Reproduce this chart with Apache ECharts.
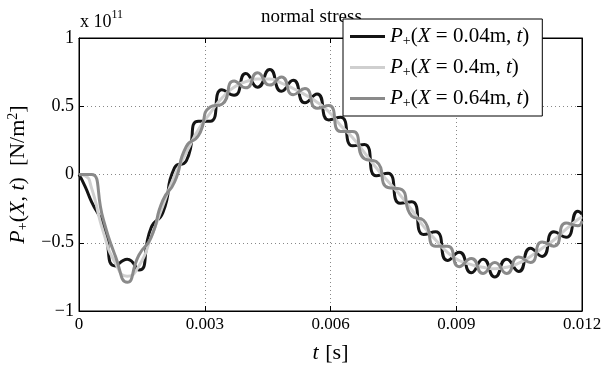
<!DOCTYPE html>
<html>
<head>
<meta charset="utf-8">
<script src="https://cdn.jsdelivr.net/npm/echarts@6/dist/echarts.min.js"></script>
<style>
  html, body { margin: 0; padding: 0; background: #fff; }
  #chart { width: 602px; height: 366px; }
</style>
</head>
<body>
<div id="chart"></div>
<script>
// time in ms (axis labels are shown in s), values in units of 1e11 N/m^2
const tMs = [0, 0.15, 0.30, 0.58, 0.87, 1.15, 1.43, 1.72, 2.00, 2.28, 2.56, 2.85, 3.13, 3.41, 3.70, 3.98,
  4.26, 4.55, 4.83, 5.11, 5.39, 5.68, 5.96, 6.24, 6.53, 6.81, 7.09, 7.37, 7.66, 7.94, 8.22, 8.51,
  8.79, 9.07, 9.36, 9.64, 9.92, 10.20, 10.49, 10.77, 11.05, 11.33, 11.62, 11.90, 12.0];

// P+(X=0.04m, t)
const p004 = [0, -0.09, -0.20, -0.37, -0.67, -0.62, -0.70, -0.39, -0.28, 0.05, 0.10, 0.39, 0.39, 0.62, 0.58, 0.74,
  0.64, 0.77, 0.61, 0.69, 0.525, 0.59, 0.40, 0.42, 0.21, 0.22, -0.01, 0.01, -0.21, -0.20, -0.44, -0.42,
  -0.63, -0.57, -0.72, -0.62, -0.75, -0.62, -0.71, -0.54, -0.60, -0.42, -0.46, -0.27, -0.29];

// P+(X=0.4m, t)
const p04 = [0, -0.01, -0.10, -0.42, -0.65, -0.745, -0.67, -0.46, -0.23, -0.01, 0.16, 0.33, 0.45, 0.56, 0.64, 0.68,
  0.70, 0.70, 0.67, 0.63, 0.585, 0.53, 0.46, 0.36, 0.27, 0.16, 0.05, -0.05, -0.15, -0.26, -0.38, -0.48,
  -0.57, -0.63, -0.66, -0.68, -0.69, -0.68, -0.65, -0.60, -0.54, -0.48, -0.40, -0.33, -0.31];

// P+(X=0.64m, t)
const p064 = [0, 0, 0, -0.33, -0.60, -0.79, -0.59, -0.46, -0.19, -0.055, 0.205, 0.285, 0.495, 0.515, 0.685, 0.635,
  0.745, 0.655, 0.715, 0.585, 0.63, 0.485, 0.505, 0.315, 0.315, 0.115, 0.095, -0.095, -0.105, -0.305, -0.335, -0.525,
  -0.525, -0.675, -0.615, -0.725, -0.645, -0.725, -0.605, -0.645, -0.495, -0.525, -0.355, -0.375, -0.34];

const seriesNames = ['X = 0.04m', 'X = 0.4m', 'X = 0.64m'];
const seriesColors = ['#141414', '#cfcfcf', '#8a8a8a'];
const seriesValues = [p004, p04, p064];

const serif = 'Liberation Serif';

function pairs(vals) {
  return tMs.map((t, i) => [t, vals[i]]);
}

const chart = echarts.init(document.getElementById('chart'));

const option = {
  animation: false,
  backgroundColor: '#fff',
  title: {
    text: 'normal stress',
    left: 256,
    top: 3,
    textStyle: { fontFamily: serif, fontSize: 19, fontWeight: 'normal', color: '#000' }
  },
  legend: {
    orient: 'vertical',
    left: 343,
    top: 19,
    z: 10,
    backgroundColor: '#fff',
    borderColor: '#000',
    borderWidth: 1,
    borderRadius: 0,
    padding: [7, 13, 6, 7],
    itemGap: 9,
    itemWidth: 35,
    itemHeight: 3,
    icon: 'rect',
    data: seriesNames,
    formatter: function (name) {
      const parts = name.split('= ');
      return '{i|P}{sub|+}{n|(}{i|X}{n| = ' + parts[1] + ', }{i|t}{n|)}';
    },
    textStyle: {
      fontFamily: serif,
      fontSize: 21,
      color: '#000',
      rich: {
        i: { fontFamily: serif, fontStyle: 'italic', fontSize: 21, color: '#000' },
        n: { fontFamily: serif, fontSize: 21, color: '#000' },
        sub: { fontFamily: serif, fontSize: 14, color: '#000', verticalAlign: 'bottom', padding: [9, 0, 0, 0] }
      }
    }
  },
  graphic: [{
    type: 'text',
    left: 80,
    top: 9,
    style: {
      text: '{a|x 10}{s|11}',
      rich: {
        a: { fontFamily: serif, fontSize: 18, fill: '#000', verticalAlign: 'bottom' },
        s: { fontFamily: serif, fontSize: 12, fill: '#000', verticalAlign: 'top', padding: [0, 0, 10, 0] }
      }
    }
  }],
  grid: {
    left: 79,
    right: 20,
    top: 38,
    bottom: 55,
    show: true,
    borderColor: '#000',
    borderWidth: 1,
    containLabel: false,
    outerBoundsMode: 'none'
  },
  xAxis: [{
    type: 'value',
    min: 0,
    max: 12,
    interval: 3,
    name: '{i|t}  {n|[s]}',
    nameLocation: 'middle',
    nameGap: 31,
    nameTextStyle: {
      rich: {
        i: { fontFamily: serif, fontStyle: 'italic', fontSize: 22, color: '#000' },
        n: { fontFamily: serif, fontSize: 22, color: '#000' }
      }
    },
    axisLine: { show: true, onZero: false, lineStyle: { color: '#000', width: 1 } },
    axisTick: { show: true, inside: true, length: 5, lineStyle: { color: '#000' } },
    axisLabel: {
      fontFamily: serif,
      fontSize: 17,
      color: '#000',
      margin: 5,
      formatter: function (v) { return v === 0 ? '0' : (v / 1000).toFixed(3); }
    },
    splitLine: { show: true, lineStyle: { color: '#888', type: [1, 3], width: 1 } }
  }, {
    type: 'value',
    position: 'top',
    min: 0,
    max: 12,
    interval: 3,
    axisLine: { show: true, onZero: false, lineStyle: { color: '#000' } },
    axisTick: { show: true, inside: true, length: 5, lineStyle: { color: '#000' } },
    axisLabel: { show: false },
    splitLine: { show: false }
  }],
  yAxis: [{
    type: 'value',
    min: -1,
    max: 1,
    interval: 0.5,
    name: '{i|P}{sub|+}{n|(}{i|X}{n|, }{i|t}{n|)  [N/m}{sup|2}{n|]}',
    nameLocation: 'middle',
    nameRotate: 90,
    nameGap: 44,
    nameTextStyle: {
      rich: {
        i: { fontFamily: serif, fontStyle: 'italic', fontSize: 22, color: '#000' },
        n: { fontFamily: serif, fontSize: 22, color: '#000' },
        sub: { fontFamily: serif, fontSize: 14, color: '#000', verticalAlign: 'bottom', padding: [10, 0, 0, 0] },
        sup: { fontFamily: serif, fontSize: 14, color: '#000', verticalAlign: 'top', padding: [0, 0, 10, 0] }
      }
    },
    axisLine: { show: true, onZero: false, lineStyle: { color: '#000', width: 1 } },
    axisTick: { show: true, inside: true, length: 5, lineStyle: { color: '#000' } },
    axisLabel: {
      fontFamily: serif,
      fontSize: 18,
      color: '#000',
      margin: 5,
      formatter: function (v) { return String(v).replace('-', '\u2212'); }
    },
    splitLine: { show: true, lineStyle: { color: '#888', type: [1, 3], width: 1 } }
  }, {
    type: 'value',
    position: 'right',
    min: -1,
    max: 1,
    interval: 0.5,
    axisLine: { show: true, onZero: false, lineStyle: { color: '#000' } },
    axisTick: { show: true, inside: true, length: 5, lineStyle: { color: '#000' } },
    axisLabel: { show: false },
    splitLine: { show: false }
  }],
  series: seriesNames.map((name, i) => ({
    name: name,
    type: 'line',
    data: pairs(seriesValues[i]),
    smooth: 0.6,
    showSymbol: false,
    symbol: 'none',
    color: seriesColors[i],
    lineStyle: { color: seriesColors[i], width: 3 },
    z: 2 + i
  }))
};

chart.setOption(option);
</script>
</body>
</html>
